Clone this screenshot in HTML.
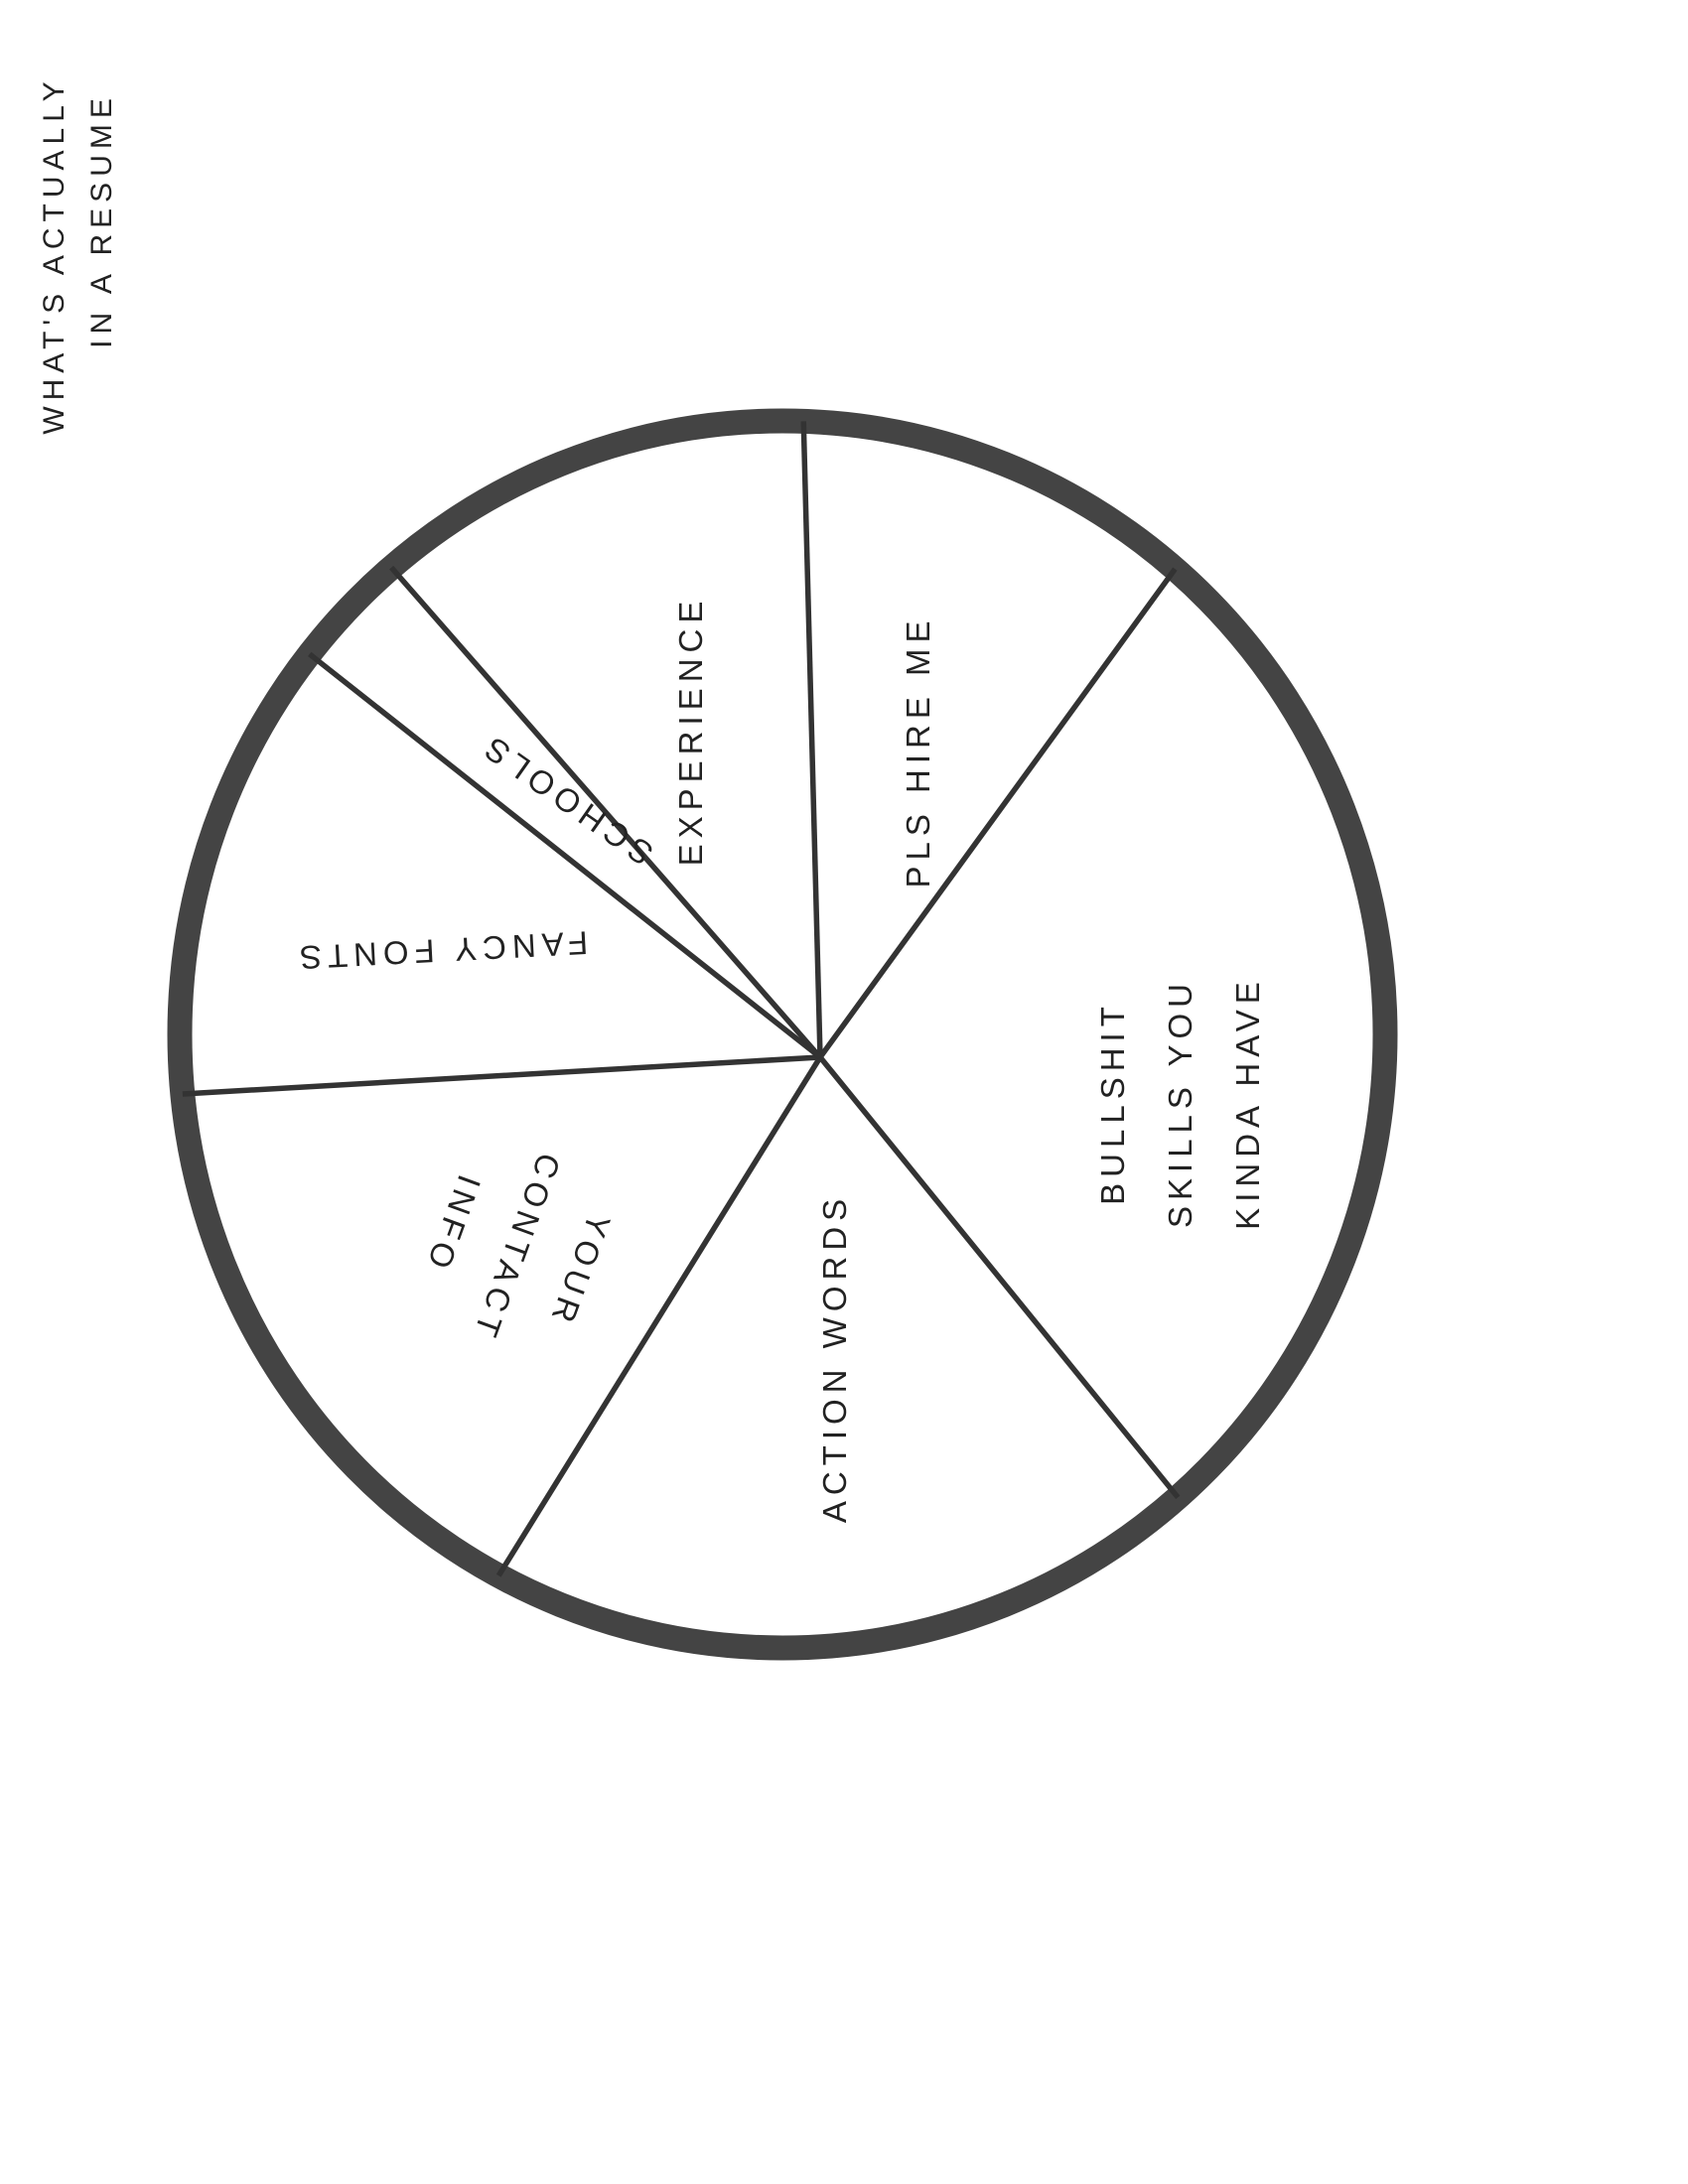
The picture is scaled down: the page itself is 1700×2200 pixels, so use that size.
<!DOCTYPE html>
<html><head><meta charset="utf-8">
<style>
html,body{margin:0;padding:0;background:#fff;}
svg{display:block;}
text{font-family:"Liberation Sans",sans-serif;fill:#222;letter-spacing:6px;}
</style></head>
<body>
<svg id="chart" width="1700" height="2200" viewBox="0 0 1700 2200">
<g id="title">
<text transform="translate(56,257) rotate(-90)" text-anchor="middle" dominant-baseline="middle" font-size="30">WHAT'S ACTUALLY</text>
<text transform="translate(104,222) rotate(-90)" text-anchor="middle" dominant-baseline="middle" font-size="30">IN A RESUME</text>
</g>
<ellipse cx="788" cy="1042" rx="607" ry="618" fill="none" stroke="#444" stroke-width="25"/>
<g id="spokes"></g>
<g id="labels"></g>
</svg>
<script>
const categories = ["PLS HIRE ME","BULLSHIT SKILLS YOU KINDA HAVE","ACTION WORDS","YOUR CONTACT INFO","FANCY FONTS","SCHOOLS","EXPERIENCE"];
const sliceDegrees = [37.5,104.9,70.9,54.9,41.6,10.5,39.7];
const startAngle = -91.5;
const labelLines = [["PLS HIRE ME"],["BULLSHIT","SKILLS YOU","KINDA HAVE"],["ACTION WORDS"],["YOUR","CONTACT","INFO"],["FANCY FONTS"],["SCHOOLS"],["EXPERIENCE"]];

const NS="http://www.w3.org/2000/svg";
const pcx=826, pcy=1065, ecx=788, ecy=1042, rx=607, ry=618;
const labelPos=[[924,757,-90],[1188,1111,-90],[840,1368,-90],[521,1257,110],[444,958,177],[570,806,215],[695,736,-90]];
function edge(a){
  const t=a*Math.PI/180, dx=Math.cos(t), dy=Math.sin(t);
  const ox=pcx-ecx, oy=pcy-ecy;
  const A=dx*dx/(rx*rx)+dy*dy/(ry*ry), B=2*(ox*dx/(rx*rx)+oy*dy/(ry*ry)), C=ox*ox/(rx*rx)+oy*oy/(ry*ry)-1;
  const s=(-B+Math.sqrt(B*B-4*A*C))/(2*A);
  return [pcx+dx*s,pcy+dy*s];
}
const spokes=document.getElementById('spokes');
const labels=document.getElementById('labels');
let a=startAngle;
for(let i=0;i<sliceDegrees.length;i++){
  const p=edge(a);
  const l=document.createElementNS(NS,'line');
  
  
  l.setAttribute('x1',pcx);l.setAttribute('y1',pcy);
  l.setAttribute('x2',p[0]);l.setAttribute('y2',p[1]);
  l.setAttribute('stroke','#333');l.setAttribute('stroke-width','5.5');
  spokes.appendChild(l);
  a+=sliceDegrees[i];
}
categories.forEach((c,i)=>{
  const [x,y,r]=labelPos[i];
  const lines=labelLines[i];
  const t=document.createElementNS(NS,'text');
  
  
  t.setAttribute('transform',`translate(${x},${y}) rotate(${r})`);
  t.setAttribute('text-anchor','middle');
  t.setAttribute('font-size','33');
  lines.forEach((ln,j)=>{
    const s=document.createElementNS(NS,'tspan');
    s.setAttribute('x',0);
    s.setAttribute('y',(j-(lines.length-1)/2)*68+12);
    s.textContent=ln;
    t.appendChild(s);
  });
  labels.appendChild(t);
});
</script>
</body></html>
